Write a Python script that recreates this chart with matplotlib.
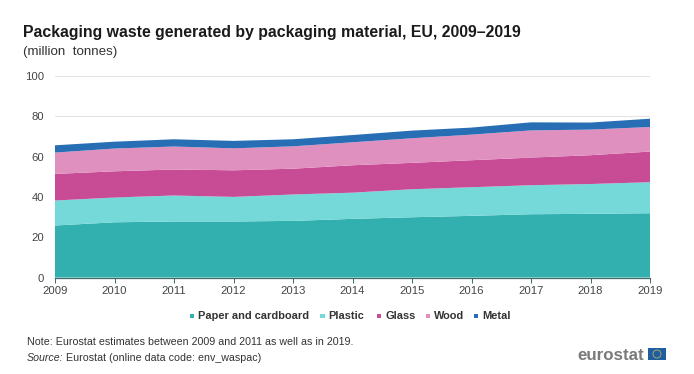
import matplotlib
matplotlib.use("Agg")
import matplotlib.pyplot as plt
from matplotlib.patches import Rectangle, Ellipse

plt.rcParams['font.family'] = ['Liberation Sans', 'DejaVu Sans']

years = [2009, 2010, 2011, 2012, 2013, 2014, 2015, 2016, 2017, 2018, 2019]
paper = [25.8, 27.4, 27.8, 27.8, 28.1, 29.1, 29.9, 30.6, 31.4, 31.6, 31.9]
plastic = [12.4, 12.3, 12.9, 12.2, 13.1, 13.0, 13.9, 14.2, 14.4, 14.8, 15.4]
glass = [13.2, 13.0, 12.9, 13.2, 12.8, 13.6, 13.1, 13.4, 13.7, 14.3, 15.2]
wood = [10.6, 11.3, 11.4, 10.9, 11.1, 11.4, 12.2, 12.7, 13.5, 12.7, 12.2]
metal = [3.6, 3.4, 3.6, 3.7, 3.5, 3.6, 3.8, 3.5, 4.0, 3.5, 4.1]
series_names = ["Paper and cardboard", "Plastic", "Glass", "Wood", "Metal"]
colors = ["#32AFAF", "#76D9D9", "#C84B96", "#E090BF", "#286EB4"]
y_ticks = [0, 20, 40, 60, 80, 100]

W, H = 694, 374
fig = plt.figure(figsize=(W / 100, H / 100), dpi=100, facecolor="white")
ax = fig.add_axes([55 / W, 1 - 277.5 / H, 595 / W, 201.5 / H])

ax.stackplot(years, paper, plastic, glass, wood, metal, colors=colors,
             labels=series_names, linewidth=0, zorder=3)
ax.set_xlim(2009, 2019)
ax.set_ylim(0, 100)
ax.set_xticks(years)
ax.set_yticks(y_ticks)
ax.grid(axis="y", color="#E4E4E4", linewidth=0.8, zorder=0)
ax.set_axisbelow(True)
for s in ["top", "right", "left"]:
    ax.spines[s].set_visible(False)
ax.spines["bottom"].set_color("#3F6A6A")
ax.spines["bottom"].set_linewidth(0.9)
ax.spines["bottom"].set_zorder(5)
ax.tick_params(axis="y", length=0, pad=8, labelsize=8.1, labelcolor="#444444")
ax.tick_params(axis="x", length=3.5, width=0.7, color="#3F6A6A", pad=2.5,
               labelsize=8.1, labelcolor="#444444")

fig.text(23 / W, 1 - 37 / H, "Packaging waste generated by packaging material, EU, 2009\u20132019",
         fontsize=11.4, fontweight="bold", color="#1A1A1A", va="baseline")
fig.text(23 / W, 1 - 54.5 / H, "(million  tonnes)", fontsize=9.6, color="#333333", va="baseline")

leg_x = [190, 320, 377, 426, 474]
for name, c, x in zip(series_names, colors, leg_x):
    fig.patches.append(Rectangle((x / W, 1 - 318 / H), 4.5 / W, 4.5 / H, transform=fig.transFigure,
                                 facecolor=c, edgecolor="none"))
    fig.text((x + 8) / W, 1 - 319 / H, name, fontsize=7.9, fontweight="bold",
             color="#333333", va="baseline")

fig.text(27 / W, 1 - 345 / H, "Note: Eurostat estimates between 2009 and 2011 as well as in 2019.",
         fontsize=7.7, color="#333333", va="baseline")
fig.text(27 / W, 1 - 361 / H, "Source:", fontsize=7.7, style="italic", color="#333333", va="baseline")
fig.text(66 / W, 1 - 361 / H, "Eurostat (online data code: env_waspac)",
         fontsize=7.7, color="#333333", va="baseline")

fig.text(577 / W, 1 - 360 / H, "eurostat", fontsize=12.2, fontweight="bold", color="#7A7A7A",
         va="baseline")
fig.patches.append(Rectangle((648 / W, 1 - 360 / H), 18 / W, 12 / H, transform=fig.transFigure,
                             facecolor="#1F5FA0", edgecolor="none"))
fig.patches.append(Ellipse((657 / W, 1 - 354 / H), 8 / W, 8 / H, transform=fig.transFigure,
                           facecolor="none", edgecolor="#B8B060", linewidth=0.6))

fig.savefig("out.png", dpi=100, facecolor="white")
